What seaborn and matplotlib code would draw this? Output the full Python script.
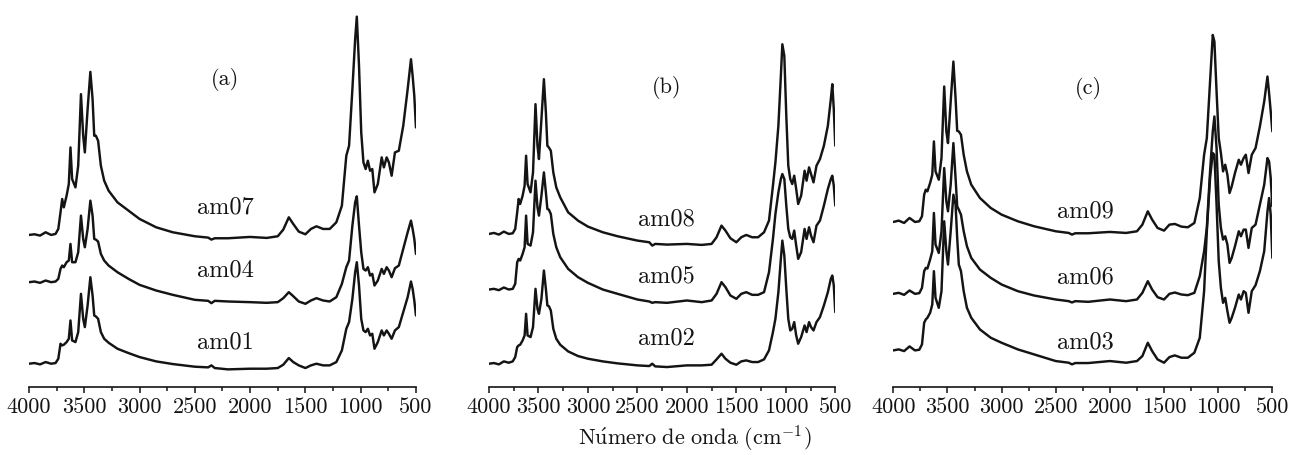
#!/usr/bin/env python3

import matplotlib
matplotlib.use("Agg")
import matplotlib.pyplot as plt
from matplotlib.ticker import MultipleLocator
import pandas as pd
import seaborn as sns

# FTIR spectra (arbitrary absorbance units, stacked)
wavenumber = [4000, 3950, 3900, 3850, 3800, 3760, 3735, 3715, 3700, 3685,
              3660, 3640, 3625, 3610, 3580, 3555, 3530, 3510, 3495, 3470,
              3445, 3425, 3410, 3395, 3375, 3350, 3320, 3280, 3200, 3100,
              3000, 2850, 2700, 2500, 2380, 2350, 2320, 2200, 2000, 1850,
              1750, 1700, 1650, 1610, 1560, 1500, 1450, 1400, 1340, 1280,
              1220, 1170, 1130, 1105, 1075, 1050, 1035, 1015, 995, 975,
              955, 935, 915, 895, 875, 845, 810, 790, 765, 745,
              720, 690, 655, 615, 575, 545, 530, 515, 500]

am07 = [457, 459, 455, 465, 457, 460, 475, 525, 565, 540,
        575, 610, 720, 625, 600, 665, 880, 755, 705, 835,
        947, 865, 755, 755, 740, 665, 620, 590, 555, 530,
        505, 480, 465, 453, 449, 443, 447, 447, 451, 448,
        453, 473, 510, 490, 467, 459, 475, 483, 475, 475,
        495, 545, 695, 725, 895, 1045, 1113, 965, 765, 675,
        655, 680, 650, 655, 585, 610, 690, 660, 690, 675,
        635, 705, 710, 785, 895, 985, 935, 875, 780]
am04 = [315, 317, 313, 320, 315, 317, 325, 355, 365, 360,
        375, 380, 430, 375, 375, 405, 515, 445, 420, 475,
        560, 515, 445, 443, 437, 400, 380, 365, 345, 325,
        307, 290, 277, 262, 259, 252, 259, 257, 255, 253,
        255, 267, 285, 273, 257, 250, 260, 267, 260, 257,
        270, 310, 360, 380, 485, 555, 573, 485, 405, 355,
        350, 360, 335, 340, 305, 320, 355, 340, 360, 350,
        330, 357, 365, 415, 465, 500, 475, 445, 400]
am01 = [70, 72, 68, 75, 70, 72, 85, 130, 125, 127,
        135, 145, 200, 140, 135, 165, 280, 205, 180, 245,
        330, 275, 215, 212, 205, 165, 145, 133, 115, 102,
        90, 77, 69, 61, 59, 65, 57, 53, 55, 55,
        57, 67, 87, 75, 65, 57, 65, 70, 65, 65,
        75, 110, 175, 195, 265, 345, 375, 305, 205, 170,
        165, 175, 155, 160, 115, 135, 170, 155, 170, 160,
        145, 170, 180, 225, 270, 317, 295, 260, 215]

am08 = [460, 463, 458, 467, 460, 462, 475, 525, 565, 550,
        575, 605, 695, 610, 585, 645, 850, 725, 685, 805,
        925, 825, 725, 720, 710, 645, 600, 570, 525, 500,
        482, 465, 453, 440, 435, 425, 430, 428, 430, 427,
        430, 450, 485, 470, 447, 435, 450, 457, 450, 450,
        465, 500, 605, 675, 785, 935, 1030, 995, 815, 665,
        625, 610, 635, 595, 550, 575, 650, 620, 660, 640,
        615, 665, 685, 725, 785, 865, 910, 835, 725]
am05 = [293, 295, 291, 299, 293, 295, 310, 375, 385, 380,
        400, 420, 515, 430, 425, 465, 620, 540, 515, 575,
        645, 585, 535, 533, 520, 460, 420, 390, 355, 330,
        313, 293, 280, 263, 257, 253, 255, 253, 260, 255,
        260, 280, 315, 300, 275, 265, 280, 285, 277, 277,
        285, 345, 445, 520, 585, 625, 640, 625, 545, 475,
        450, 445, 470, 425, 385, 405, 475, 445, 480, 455,
        435, 485, 500, 545, 595, 625, 635, 605, 545]
am02 = [70, 72, 68, 77, 73, 77, 90, 120, 125, 127,
        140, 155, 220, 155, 150, 180, 295, 235, 220, 265,
        350, 295, 245, 243, 230, 175, 145, 127, 107, 93,
        85, 77, 71, 65, 63, 70, 62, 60, 65, 65,
        67, 83, 100, 85, 73, 67, 77, 80, 75, 75,
        83, 110, 165, 205, 285, 385, 440, 395, 295, 205,
        170, 175, 195, 155, 130, 150, 185, 165, 195, 180,
        170, 195, 210, 245, 285, 325, 335, 305, 225]

am09 = [496, 500, 493, 508, 496, 498, 513, 578, 593, 588,
        613, 638, 738, 648, 623, 688, 903, 768, 733, 858,
        978, 868, 770, 768, 758, 698, 648, 608, 568, 538,
        518, 498, 483, 468, 463, 458, 462, 462, 466, 463,
        468, 488, 528, 503, 478, 470, 488, 490, 482, 480,
        493, 568, 698, 748, 918, 1058, 1038, 888, 748, 703,
        648, 668, 638, 583, 603, 643, 683, 668, 688, 698,
        643, 698, 718, 783, 858, 933, 883, 828, 768]
am06 = [280, 283, 277, 290, 280, 282, 298, 348, 358, 356,
        383, 408, 523, 428, 403, 468, 658, 558, 528, 608,
        733, 628, 543, 533, 518, 468, 423, 388, 353, 328,
        308, 288, 275, 263, 258, 254, 258, 256, 263, 258,
        263, 283, 318, 293, 270, 263, 280, 284, 278, 276,
        283, 333, 408, 478, 648, 768, 813, 718, 548, 478,
        443, 453, 428, 373, 388, 423, 468, 453, 473, 473,
        418, 478, 488, 548, 608, 688, 678, 628, 543]
am03 = [110, 113, 108, 122, 110, 112, 128, 193, 203, 208,
        223, 248, 348, 268, 238, 288, 498, 408, 368, 468,
        578, 548, 448, 368, 348, 288, 238, 208, 173, 148,
        133, 113, 98, 78, 73, 68, 72, 72, 78, 73,
        78, 93, 133, 108, 83, 73, 90, 95, 88, 88,
        103, 148, 288, 468, 628, 703, 698, 548, 378, 298,
        253, 268, 228, 193, 208, 238, 278, 263, 288, 283,
        223, 288, 306, 348, 408, 528, 568, 518, 388]

panel_titles = ["(a)", "(b)", "(c)"]
panel_samples = [["am07", "am04", "am01"],
                 ["am08", "am05", "am02"],
                 ["am09", "am06", "am03"]]
spectra = {"am07": am07, "am04": am04, "am01": am01,
           "am08": am08, "am05": am05, "am02": am02,
           "am09": am09, "am06": am06, "am03": am03}
ticks = [4000, 3500, 3000, 2500, 2000, 1500, 1000, 500]
xlabel = r"$\mathrm{N\acute{u}mero\ de\ onda\ (cm^{-1})}$"

# layout (figure fractions) and label anchors (data units)
axes_rects = [[0.0224, 0.1491, 0.2988, 0.8509],
              [0.3776, 0.1491, 0.2674, 0.8509],
              [0.6898, 0.1491, 0.2927, 0.8509]]
title_pos = [(2224, 910), (2204, 887), (2202, 885)]
label_x = [2226, 2204, 2222]
label_y = [[525, 335, 120], [487, 317, 130], [513, 315, 120]]

sns.set_style("ticks")
plt.rcParams["font.family"] = ["cmr10", "DejaVu Serif"]
plt.rcParams["mathtext.fontset"] = "cm"
plt.rcParams["axes.formatter.use_mathtext"] = True

fig = plt.figure(figsize=(12.95, 4.56), dpi=100)
ink = "#141414"

for i in range(3):
    ax = fig.add_axes(axes_rects[i])
    rows = []
    for name in panel_samples[i]:
        for w, v in zip(wavenumber, spectra[name]):
            rows.append({"wavenumber": w, "absorbancia": v, "amostra": name})
    df = pd.DataFrame(rows)
    sns.lineplot(data=df, x="wavenumber", y="absorbancia", units="amostra",
                 estimator=None, sort=False, color=ink, lw=1.75, ax=ax)
    ax.set_xlim(4000, 500)
    ax.set_ylim(0, 1166)
    ax.set_xticks(ticks)
    ax.set_xticklabels([str(t) for t in ticks])
    ax.xaxis.set_minor_locator(MultipleLocator(250))
    ax.set_yticks([])
    ax.set_xlabel("")
    ax.set_ylabel("")
    sns.despine(ax=ax, left=True, top=True, right=True)
    ax.spines["bottom"].set_linewidth(1.2)
    ax.spines["bottom"].set_color(ink)
    ax.tick_params(axis="x", which="major", length=4.5, width=1.1,
                   color=ink, labelsize=16, pad=2.5, labelcolor=ink)
    ax.tick_params(axis="x", which="minor", length=2.8, width=1.1, color=ink)
    ax.patch.set_alpha(0)
    ax.text(title_pos[i][0], title_pos[i][1], panel_titles[i], ha="center",
            va="baseline", fontsize=16, color=ink)
    for name, y in zip(panel_samples[i], label_y[i]):
        ax.text(label_x[i], y, name, ha="center", va="baseline",
                fontsize=17.5, color=ink)

fig.text(0.5367, 0.022, xlabel, ha="center", va="baseline", fontsize=16,
         color=ink)

plt.savefig("out.png", dpi=100)
